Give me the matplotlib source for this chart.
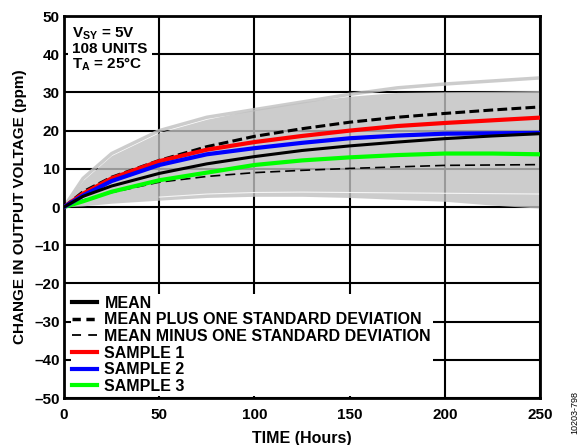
import numpy as np
import matplotlib
matplotlib.use("Agg")
import matplotlib.pyplot as plt
from matplotlib.lines import Line2D

plt.rcParams['font.family'] = ['Liberation Sans', 'DejaVu Sans']
plt.rcParams['font.weight'] = 'bold'
plt.rcParams['mathtext.fontset'] = 'custom'
plt.rcParams['mathtext.rm'] = 'Liberation Sans:bold'
plt.rcParams['mathtext.it'] = 'Liberation Sans:bold'
plt.rcParams['mathtext.bf'] = 'Liberation Sans:bold'

# time points (hours)
hours = [0, 10, 25, 50, 75, 100, 125, 150, 175, 200, 225, 250]

# ppm values
mean = [0, 2.8, 5.5, 8.8, 11.3, 13.2, 14.8, 16.0, 17.0, 17.9, 18.6, 19.2]
mean_plus = [0, 4.0, 7.8, 12.2, 15.8, 18.5, 20.5, 22.2, 23.5, 24.5, 25.4, 26.2]
mean_minus = [0, 1.8, 3.8, 6.5, 8.0, 9.0, 9.6, 10.1, 10.5, 10.9, 11.0, 11.1]
sample1 = [0, 3.5, 7.5, 12.0, 15.0, 17.0, 18.6, 20.0, 21.2, 22.0, 22.7, 23.4]
sample2 = [0, 3.0, 6.8, 11.0, 13.8, 15.4, 16.8, 18.0, 18.7, 19.2, 19.3, 19.4]
sample3 = [0, 1.5, 4.0, 7.0, 9.0, 11.0, 12.2, 13.0, 13.6, 14.0, 14.0, 13.8]

# spread of all 108 units
band_hi = [0, 7.0, 13.5, 19.5, 23.0, 25.5, 27.5, 29.0, 30.0, 30.2, 30.3, 30.5]
band_lo = [0, 0.3, 1.0, 1.8, 2.5, 2.8, 2.8, 2.5, 2.0, 1.5, 0.5, -0.3]
outlier_hi = [0, 7.5, 14.0, 20.0, 23.5, 25.5, 27.5, 29.5, 31.2, 32.2, 33.0, 33.8]
gap_lo = [0, 0.6, 1.8, 2.6, 3.4, 3.8, 3.9, 3.8, 3.7, 3.6, 3.5, 3.4]

fig = plt.figure(figsize=(5.82, 4.45), dpi=100)
ax = fig.add_axes([0.110, 0.1056, 0.818, 0.8584])

ax.set_xlim(0, 250)
ax.set_ylim(-50, 50)
ax.set_xticks(range(0, 251, 50))
ax.set_yticks(range(-50, 51, 10))
ax.grid(True, color='black', lw=1.5, zorder=0)
ax.set_axisbelow(True)

gray = (192/255, 192/255, 192/255)
ax.plot(hours, outlier_hi, color=gray, lw=2.5, alpha=0.8, zorder=1)
ax.fill_between(hours, band_lo, band_hi, color=gray, alpha=0.8, lw=0, zorder=1)
ax.plot(hours[3:], gap_lo[3:], color='white', lw=0.8, alpha=0.8, zorder=1.5)

ax.plot(hours, mean_plus, color='black', lw=2.2, ls=(0, (3.2, 1.4)), zorder=3)
ax.plot(hours, mean_minus, color='black', lw=1.2, ls=(0, (6, 3)), zorder=3)
ax.plot(hours, sample3, color='#00ff00', lw=3, zorder=3)
ax.plot(hours, sample1, color='#ff0000', lw=3, zorder=3)
ax.plot(hours, sample2, color='#0000ff', lw=3, zorder=3)
ax.plot(hours, mean, color='black', lw=2.2, zorder=4)

for s in ax.spines.values():
    s.set_linewidth(2)
ax.tick_params(length=0, labelsize=11)
ax.tick_params(axis='x', pad=7)
ax.tick_params(axis='y', pad=3)
for lab in ax.get_xticklabels() + ax.get_yticklabels():
    lab.set_fontweight('bold')
ax.set_yticklabels([str(v).replace('-', '\u2013') for v in range(-50, 51, 10)])

ax.set_xlabel('TIME (Hours)', fontsize=11.5, fontweight='bold', labelpad=7)
ax.set_ylabel('CHANGE IN OUTPUT VOLTAGE (ppm)', fontsize=11, fontweight='bold', labelpad=5)

ax.text(0.017, 0.975, '$V_{SY}$ = 5V\n108 UNITS\n$T_A$ = 25°C', transform=ax.transAxes,
        ha='left', va='top', fontsize=11, fontweight='bold', linespacing=1.0,
        bbox=dict(facecolor='white', edgecolor='none', pad=3), zorder=6)

handles = [
    Line2D([], [], color='black', lw=3),
    Line2D([], [], color='black', lw=2.5, ls=(0, (2.4, 1.6))),
    Line2D([], [], color='black', lw=1.3, ls=(0, (5, 4))),
    Line2D([], [], color='#ff0000', lw=3),
    Line2D([], [], color='#0000ff', lw=3),
    Line2D([], [], color='#00ff00', lw=3),
]
labels = ['MEAN', 'MEAN PLUS ONE STANDARD DEVIATION', 'MEAN MINUS ONE STANDARD DEVIATION',
          'SAMPLE 1', 'SAMPLE 2', 'SAMPLE 3']
leg = ax.legend(handles, labels, loc='lower left', bbox_to_anchor=(0.012, 0.004),
                frameon=True, fancybox=False, framealpha=1, edgecolor='none',
                facecolor='white', fontsize=11.5, handlelength=1.55, handletextpad=0.45,
                labelspacing=0.1, borderpad=0.12, borderaxespad=0.05)
leg.set_zorder(5)
for t in leg.get_texts():
    t.set_fontweight('bold')

fig.text(0.988, 0.072, '10203-798', rotation=90, fontsize=6.5, fontweight='normal',
         ha='center', va='center')

fig.savefig('out.png', dpi=100)
